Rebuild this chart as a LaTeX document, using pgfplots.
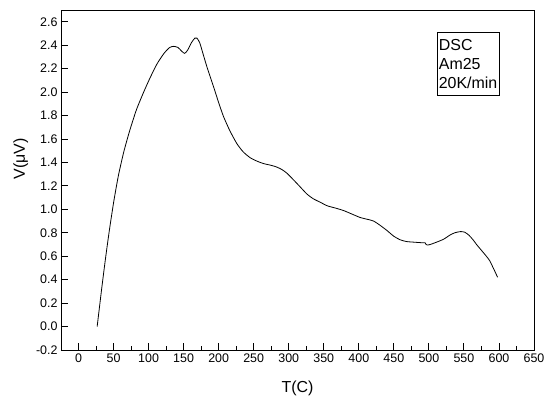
\documentclass[border=0pt]{standalone}
\usepackage{fontspec}
\setmainfont{Liberation Sans}
\usepackage{pgfplots}
\pgfplotsset{compat=1.18}

\begin{document}
\begin{tikzpicture}
\useasboundingbox (0,0) rectangle (546bp,401bp);
\begin{axis}[
    at={(61bp,51bp)}, anchor=south west,
    scale only axis, width=473bp, height=340bp,
    xmin=-25, xmax=650, ymin=-0.2, ymax=2.7,
    xtick={0,50,...,650}, ytick={-0.2,0,0.2,...,2.61},
    minor x tick num=1, minor y tick num=1,
    tick align=inside, xtick pos=bottom, ytick pos=left,
    major tick length=7bp, minor tick length=4bp,
    axis line style={line width=0.9bp},
    every tick/.style={black, line width=0.9bp},
    /pgf/number format/assume math mode=true,
    yticklabel style={/pgf/number format/.cd, fixed, fixed zerofill, precision=1},
    tick label style={font=\fontsize{12.5}{14}\selectfont},
    label style={font=\fontsize{16}{18}\selectfont},
    xlabel={T(C)}, ylabel={V(μV)},
    xlabel style={at={(axis description cs:0.5,-0.126)}, anchor=base},
    ylabel style={at={(axis description cs:-0.085,0.562)}, anchor=center},
]
\addplot[black, line width=0.8bp, smooth, tension=0.4] coordinates {
(26.6,0.00) (33,0.32) (38.5,0.58) (44,0.82) (50.4,1.07) (57,1.29)
(64.6,1.49) (73,1.67) (82.7,1.85) (93,2.00) (102,2.12) (112,2.24)
(122,2.33) (130,2.38) (136,2.39) (142,2.38) (147,2.35) (151.5,2.33)
(156,2.36) (161,2.42) (166,2.46) (169,2.46) (173,2.42) (178,2.32)
(183,2.22) (188,2.13) (193,2.04) (200,1.91) (207,1.79) (216,1.67)
(226,1.56) (235,1.49) (245,1.44) (255,1.41) (264,1.39) (275,1.375)
(283,1.36) (290,1.34) (297,1.31) (307,1.25) (316.5,1.19) (326,1.13)
(335,1.09) (345,1.06) (355,1.03) (367,1.01) (378,0.99) (390,0.96)
(402,0.93) (412,0.915) (421,0.90) (430,0.865) (440,0.82) (450,0.77)
(459,0.74) (468,0.725) (478,0.72) (490,0.715) (494.5,0.715) (496,0.70)
(498,0.695) (502,0.70) (511,0.72) (521,0.745) (530,0.78) (537,0.80)
(545,0.81) (551,0.805) (557,0.78) (563,0.74) (568,0.70) (575,0.65)
(582,0.60) (587,0.56) (591,0.51) (595,0.46) (598,0.42)
};
\node[draw, line width=0.6bp, anchor=north west, align=left,
      inner xsep=2bp, inner ysep=7bp,
      font=\fontsize{16}{19}\selectfont]
  at (rel axis cs:0.794,0.935) {DSC\\Am25\\20K/min};
\end{axis}
\end{tikzpicture}
\end{document}
